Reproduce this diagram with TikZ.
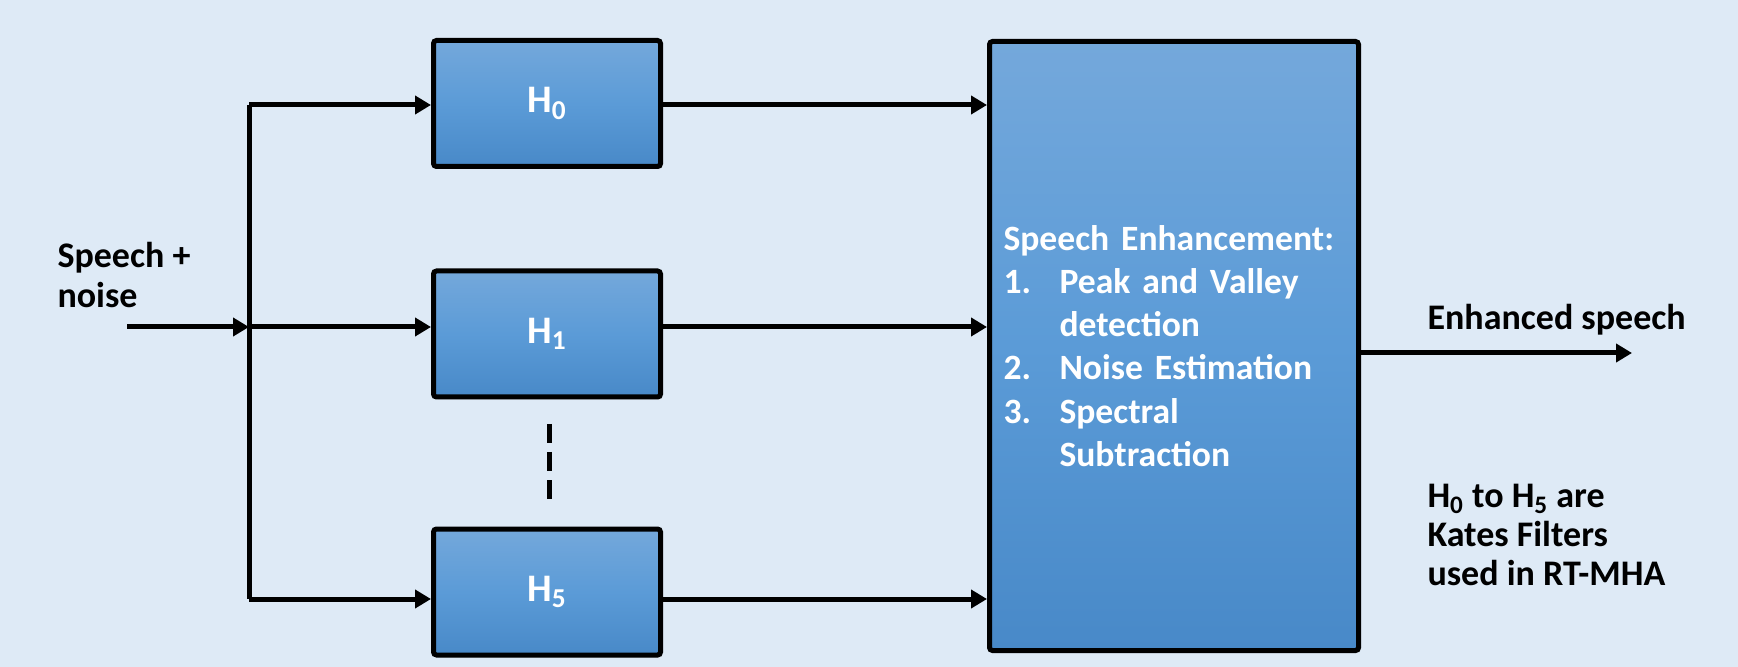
\documentclass[tikz,border=0pt]{standalone}
\usepackage{fontspec}
\setmainfont{Carlito}
\usetikzlibrary{arrows.meta,shadows}
\definecolor{bgc}{HTML}{DEEAF6}
\definecolor{btop}{HTML}{74A8DB}
\definecolor{bmid}{HTML}{5B9BD7}
\definecolor{bbot}{HTML}{4889C8}
\newcommand\subx[1]{\textsubscript{#1}}
\newcommand\itm[2]{\mbox{\makebox[28pt][l]{#1}#2}}
\begin{document}
\begin{tikzpicture}[x=0.5pt,y=-0.5pt,
  font=\bfseries\fontsize{18}{20}\selectfont,
  line width=2.5pt,
  arr/.style={-{Triangle[length=8pt,width=9pt]}},
  filt/.style={draw=black, line width=2.5pt, rounded corners=1.5pt,
    top color=btop, bottom color=bbot, middle color=bmid,
    drop shadow={opacity=0.3, shadow xshift=1pt, shadow yshift=-1.2pt},
    minimum width=113.5pt, minimum height=63pt, inner sep=0pt,
    text=white, font=\bfseries\fontsize{19.5}{21}\selectfont},
  bigbox/.style={draw=black, line width=2.5pt, rounded corners=1.5pt,
    top color=btop, bottom color=bbot, middle color=bmid,
    drop shadow={opacity=0.3, shadow xshift=1pt, shadow yshift=-1.2pt},
    minimum width=184.5pt, minimum height=304.5pt, inner xsep=7pt,
    text width=170.5pt, align=left, text=white,
    font=\bfseries\fontsize{17.8}{21.6}\selectfont},
  lbl/.style={align=left, inner sep=0pt, text=black}]
\fill[bgc] (0,0) rectangle (1738,667);
\useasboundingbox (0,0) rectangle (1738,667);

% filter boxes
\node[filt] (h0) at (547,103.5) {H\subx{0}};
\node[filt] (h1) at (547,334) {H\subx{1}};
\node[filt] (h5) at (547,592) {H\subx{5}};

% speech enhancement box
\node[bigbox] (se) at (1174,346) {\mbox{Speech Enhancement:}\\
\itm{1.}{Peak and Valley}\\
\itm{}{detection}\\
\itm{2.}{Noise Estimation}\\
\itm{3.}{Spectral}\\
\itm{}{Subtraction}};

% input
\node[lbl, anchor=north west] (in) at (55,240) {Speech +\\noise};
\coordinate (src) at (127,327);
\coordinate (jt) at (249,105);
\coordinate (jm) at (249,327);
\coordinate (jb) at (249,599);
\draw[arr] (src) -- (jm);
\draw (jt) -- (jb);
\draw[arr] (jt) -- (jt -| h0.west);
\draw[arr] (jm) -- (jm -| h1.west);
\draw[arr] (jb) -- (jb -| h5.west);

% outputs of filters
\draw[arr] (h0.east |- jt) -- (jt -| se.west);
\draw[arr] (h1.east |- jm) -- (jm -| se.west);
\draw[arr] (h5.east |- jb) -- (jb -| se.west);

% dots
\coordinate (d1) at (549,424);
\coordinate (d2) at (549,499);
\draw[dash pattern=on 9.5pt off 4.5pt] (d1) -- (d2);

% output
\coordinate (outp) at (1632,353);
\draw[arr] (se.east |- outp) -- (outp);
\node[lbl, anchor=base west] (enh) at (1425,330) {Enhanced speech};
\node[lbl, anchor=north west, font=\bfseries\fontsize{18}{19.5}\selectfont] (note) at (1425,482) {H\subx{0} to H\subx{5} are\\Kates Filters\\used in RT-MHA};
\end{tikzpicture}
\end{document}
